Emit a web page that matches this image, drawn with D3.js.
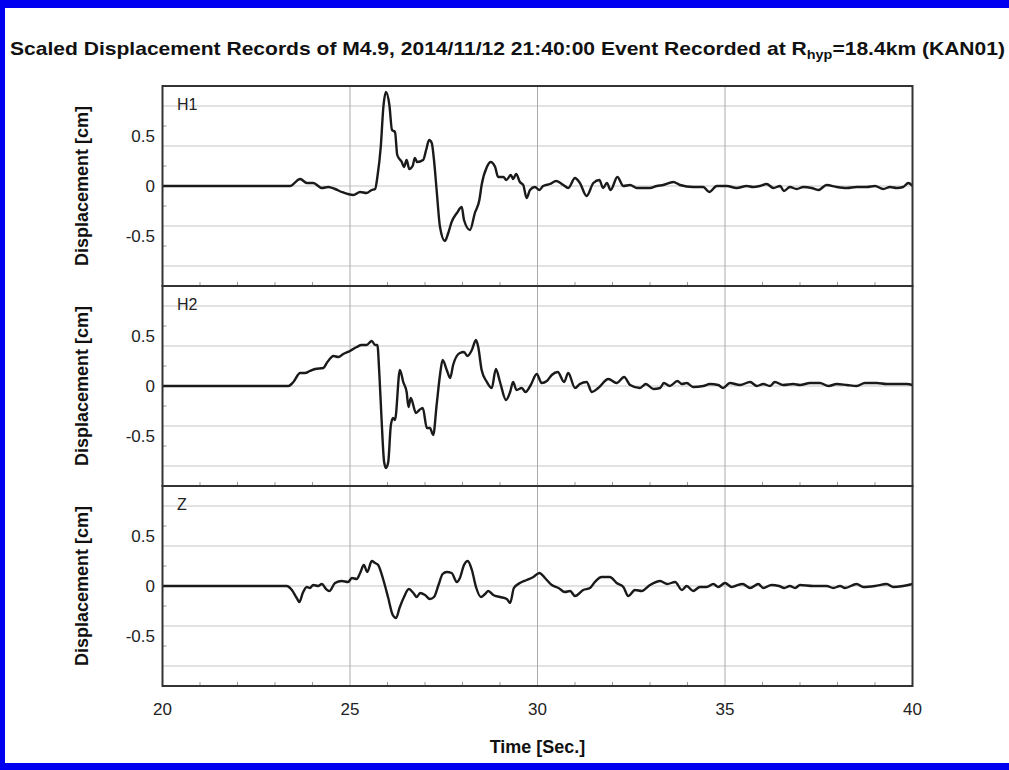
<!DOCTYPE html>
<html>
<head>
<meta charset="utf-8">
<title>Scaled Displacement Records - KAN01</title>
<style>
  body { margin: 0; background: #fff; }
  svg { display: block; font-family: "Liberation Sans", Arial, sans-serif; }
</style>
</head>
<body>
<svg id="chart"></svg>
<script src="https://cdn.jsdelivr.net/npm/d3@7"></script>
<script>
// time axis (s) and displacement axis (cm)
const timeTicks = [20, 25, 30, 35, 40];
const minorTimeTicks = [21, 22, 23, 24, 26, 27, 28, 29, 31, 32, 33, 34, 36, 37, 38, 39];
const dispTicks = [-0.5, 0, 0.5];
const dispGrid = [-0.8, -0.4, 0, 0.4, 0.8];
const components = ["H1", "H2", "Z"];

// [time, displacement]
const h1 = [[20,0],[23.4,0],[23.67,0.07],[23.85,0.03],[24.02,0.03],[24.25,-0.02],[24.42,-0.01],[24.6,-0.03],
  [24.78,-0.06],[25.09,-0.09],[25.27,-0.06],[25.44,-0.07],[25.58,-0.04],[25.67,-0.03],[25.73,0.09],[25.82,0.39],
  [25.89,0.79],[25.96,0.94],[26.05,0.81],[26.12,0.56],[26.2,0.54],[26.26,0.31],[26.38,0.24],[26.44,0.19],
  [26.51,0.26],[26.58,0.17],[26.67,0.2],[26.73,0.28],[26.79,0.24],[26.95,0.26],[27.03,0.36],[27.11,0.46],
  [27.18,0.43],[27.24,0.26],[27.31,-0.04],[27.4,-0.41],[27.53,-0.55],[27.62,-0.47],[27.71,-0.36],[27.85,-0.27],
  [27.98,-0.21],[28.04,-0.34],[28.2,-0.44],[28.33,-0.27],[28.45,-0.14],[28.51,0.01],[28.65,0.19],[28.75,0.24],
  [28.87,0.19],[28.95,0.09],[29.09,0.09],[29.17,0.06],[29.29,0.11],[29.35,0.07],[29.43,0.12],[29.53,0.04],
  [29.62,0.01],[29.71,-0.12],[29.8,-0.04],[29.93,-0.01],[30.05,-0.04],[30.15,0],[30.33,0.02],[30.5,0.05],
  [30.69,0.01],[30.82,-0.02],[31.0,0.08],[31.13,0.03],[31.31,-0.1],[31.49,0.03],[31.65,0.06],[31.75,-0.02],
  [31.85,0.03],[31.95,-0.04],[32.13,0.09],[32.29,0],[32.47,0.01],[32.65,-0.02],[33.0,-0.02],[33.18,0],
  [33.35,0.01],[33.62,0.04],[33.8,0.01],[34.15,-0.01],[34.42,-0.01],[34.58,-0.06],[34.78,0],[35.05,0],
  [35.31,-0.02],[35.58,0],[35.75,-0.01],[35.93,0],[36.11,0.02],[36.29,-0.02],[36.47,0],[36.57,-0.05],
  [36.73,-0.01],[36.91,-0.03],[37.09,-0.01],[37.31,-0.02],[37.49,-0.04],[37.71,0.01],[37.98,-0.01],[38.25,-0.02],
  [38.51,-0.01],[38.78,-0.01],[39.0,0],[39.22,-0.03],[39.4,-0.01],[39.58,-0.02],[39.75,-0.01],[39.89,0.03],[40,0]];

const h2 = [[20,0],[23.36,0],[23.49,0.04],[23.67,0.13],[23.8,0.13],[23.93,0.15],[24.07,0.17],[24.29,0.18],
  [24.38,0.23],[24.56,0.3],[24.69,0.29],[24.82,0.32],[25.0,0.35],[25.18,0.39],[25.31,0.41],[25.44,0.41],
  [25.58,0.45],[25.67,0.41],[25.73,0.41],[25.78,0.14],[25.84,-0.32],[25.91,-0.76],[25.96,-0.82],[26.02,-0.76],
  [26.09,-0.39],[26.15,-0.32],[26.2,-0.34],[26.33,0.16],[26.42,0.04],[26.51,-0.06],[26.56,-0.21],[26.62,-0.12],
  [26.76,-0.27],[26.85,-0.24],[26.94,-0.22],[27.05,-0.42],[27.13,-0.42],[27.22,-0.49],[27.31,-0.19],[27.4,0.11],
  [27.47,0.26],[27.58,0.16],[27.67,0.08],[27.75,0.21],[27.93,0.33],[28.04,0.34],[28.13,0.3],[28.25,0.36],
  [28.36,0.46],[28.42,0.39],[28.51,0.16],[28.65,0.04],[28.78,-0.02],[28.89,0.17],[29.0,0.04],[29.16,-0.14],
  [29.27,-0.06],[29.35,0.04],[29.44,-0.04],[29.58,-0.02],[29.68,-0.06],[29.82,0.01],[29.98,0.12],[30.11,0.03],
  [30.25,0.05],[30.38,0.11],[30.54,0.14],[30.71,0.04],[30.82,0.13],[31.0,-0.02],[31.13,0.02],[31.31,0.04],
  [31.45,-0.06],[31.62,-0.02],[31.89,0.07],[32.11,0.03],[32.31,0.09],[32.47,0.01],[32.73,-0.02],[32.89,0.02],
  [33.09,-0.03],[33.27,-0.02],[33.37,0.03],[33.53,0],[33.73,0.05],[33.85,0.02],[33.98,0.03],[34.15,-0.01],
  [34.42,0],[34.6,0.02],[34.82,0.01],[34.95,-0.02],[35.13,0.03],[35.4,0.01],[35.67,0.04],[35.85,0],
  [36.02,0.02],[36.2,0],[36.33,0.04],[36.55,0.01],[36.82,0.02],[37.0,0.01],[37.27,0.03],[37.53,0.03],
  [37.76,0],[37.98,0.02],[38.25,0.01],[38.51,0],[38.73,0.03],[39.05,0.03],[39.31,0.02],[39.58,0.02],
  [39.85,0.02],[40,0.01]];

const z = [[20,0],[23.31,0],[23.45,-0.04],[23.58,-0.12],[23.65,-0.16],[23.74,-0.07],[23.85,-0.01],[23.93,-0.02],
  [24.02,0.01],[24.15,0],[24.25,0.02],[24.36,-0.03],[24.45,-0.05],[24.6,0.03],[24.78,0.05],[24.95,0.04],
  [25.05,0.08],[25.18,0.07],[25.27,0.13],[25.37,0.21],[25.46,0.14],[25.58,0.25],[25.67,0.23],[25.75,0.21],
  [25.89,0.06],[26.02,-0.12],[26.14,-0.29],[26.23,-0.32],[26.32,-0.22],[26.44,-0.11],[26.57,-0.03],[26.69,-0.07],
  [26.78,-0.11],[26.87,-0.07],[27.0,-0.09],[27.13,-0.13],[27.24,-0.11],[27.36,0.01],[27.47,0.12],[27.58,0.14],
  [27.71,0.13],[27.85,0.04],[27.93,0.08],[28.04,0.21],[28.14,0.25],[28.25,0.16],[28.36,-0.01],[28.49,-0.11],
  [28.6,-0.08],[28.69,-0.05],[28.82,-0.09],[29.0,-0.11],[29.18,-0.13],[29.27,-0.17],[29.37,-0.02],[29.53,0.03],
  [29.71,0.06],[29.89,0.09],[30.05,0.13],[30.2,0.08],[30.38,0.01],[30.56,-0.02],[30.73,-0.06],[30.87,-0.05],
  [31.0,-0.1],[31.22,-0.04],[31.4,-0.02],[31.53,0.04],[31.71,0.09],[31.93,0.09],[32.11,0.03],[32.29,-0.01],
  [32.42,-0.1],[32.6,-0.04],[32.78,-0.05],[33.0,0.01],[33.27,0.05],[33.46,0.02],[33.67,0.04],[33.85,-0.04],
  [33.98,0],[34.15,-0.05],[34.33,-0.01],[34.51,-0.01],[34.69,0.02],[34.82,-0.01],[35.0,0.03],[35.18,-0.01],
  [35.27,0],[35.47,0.02],[35.67,-0.02],[35.89,0.02],[36.02,-0.02],[36.24,0.01],[36.44,0],[36.58,-0.02],
  [36.73,0],[36.87,-0.02],[37.0,0.01],[37.35,0],[37.71,0],[37.89,-0.02],[38.07,0],[38.2,-0.02],
  [38.51,0.02],[38.69,-0.01],[39.0,0],[39.31,0.02],[39.49,-0.01],[39.75,0],[40,0.02]];

const records = [h1, h2, z];

const width = 1009, height = 770;
const left = 162.5, right = 912.5, top0 = 86, panelH = 200;

const svg = d3.select("#chart").attr("width", width).attr("height", height);

// blue frame
svg.append("rect").attr("x", 0).attr("y", 0).attr("width", width).attr("height", 8).attr("fill", "#0000f0");
svg.append("rect").attr("x", 0).attr("y", 0).attr("width", 5).attr("height", height).attr("fill", "#0000f0");
svg.append("rect").attr("x", 0).attr("y", 763).attr("width", width).attr("height", 7).attr("fill", "#0000f0");

// title
const title = svg.append("text")
  .attr("x", 10).attr("y", 55)
  .attr("font-size", 19).attr("font-weight", "bold").attr("fill", "#111");
title.append("tspan").text("Scaled Displacement Records of M4.9, 2014/11/12 21:40:00 Event Recorded at R");
title.append("tspan").attr("font-size", 13).attr("dy", 4).text("hyp");
title.append("tspan").attr("dy", -4).text("=18.4km (KAN01)");
title.attr("textLength", 995).attr("lengthAdjust", "spacingAndGlyphs");

const x = d3.scaleLinear().domain([20, 40]).range([left, right]);

const line = d3.line().curve(d3.curveMonotoneX);

components.forEach(function (name, i) {
  const y0 = top0 + i * panelH;
  const y = d3.scaleLinear().domain([-1, 1]).range([y0 + panelH, y0]);
  const g = svg.append("g");

  // horizontal grid
  g.selectAll(".hgrid").data(dispGrid).enter().append("line")
    .attr("x1", left).attr("x2", right)
    .attr("y1", d => y(d)).attr("y2", d => y(d))
    .attr("stroke", "#d8d8d8").attr("stroke-width", 1.5);

  // vertical grid
  g.selectAll(".vgrid").data(timeTicks.slice(1, -1)).enter().append("line")
    .attr("x1", d => x(d)).attr("x2", d => x(d))
    .attr("y1", y0).attr("y2", y0 + panelH)
    .attr("stroke", "#aaa").attr("stroke-width", 1);

  // minor ticks along the bottom
  g.selectAll(".mtick").data(minorTimeTicks).enter().append("line")
    .attr("x1", d => x(d)).attr("x2", d => x(d))
    .attr("y1", y0 + panelH).attr("y2", y0 + panelH - 4)
    .attr("stroke", "#999").attr("stroke-width", 1);

  // minor ticks on the left
  g.selectAll(".ltick").data([-0.6, -0.2, 0.2, 0.6]).enter().append("line")
    .attr("x1", left).attr("x2", left + 4)
    .attr("y1", d => y(d)).attr("y2", d => y(d))
    .attr("stroke", "#999").attr("stroke-width", 1);

  // trace
  g.append("path")
    .datum(records[i])
    .attr("d", line.x(d => x(d[0])).y(d => y(d[1])))
    .attr("fill", "none").attr("stroke", "#1a1a1a")
    .attr("stroke-width", 2.4).attr("stroke-linejoin", "round");

  // panel frame
  g.append("rect")
    .attr("x", left).attr("y", y0).attr("width", right - left).attr("height", panelH)
    .attr("fill", "none").attr("stroke", "#333").attr("stroke-width", 2);

  // y tick labels, placed a little off the grid lines as in the original
  g.selectAll(".ylab").data(dispTicks).enter().append("text")
    .attr("x", 155).attr("y", d => y(d) + 6)
    .attr("text-anchor", "end").attr("font-size", 17).attr("fill", "#222")
    .text(d => String(d));

  g.append("text").attr("x", 177).attr("y", y0 + 24)
    .attr("font-size", 16).attr("fill", "#222").text(name);

  g.append("text")
    .attr("transform", "translate(88," + (y0 + panelH / 2) + ") rotate(-90)")
    .attr("text-anchor", "middle").attr("font-size", 18).attr("font-weight", "bold").attr("fill", "#111")
    .text("Displacement [cm]");
});

// x tick labels
svg.selectAll(".xlab").data(timeTicks).enter().append("text")
  .attr("x", d => x(d)).attr("y", 715)
  .attr("text-anchor", "middle").attr("font-size", 17).attr("fill", "#222")
  .text(d => d);

svg.append("text").attr("x", (left + right) / 2).attr("y", 753)
  .attr("text-anchor", "middle").attr("font-size", 18).attr("font-weight", "bold").attr("fill", "#111")
  .text("Time [Sec.]");
</script>
</body>
</html>
